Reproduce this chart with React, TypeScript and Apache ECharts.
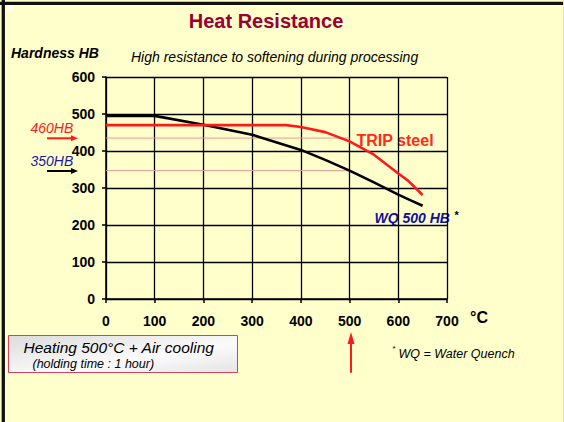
import React, { useEffect, useRef } from "react";
import * as echarts from "echarts";

const xTicks = [0, 100, 200, 300, 400, 500, 600, 700];
const yTicks = [0, 100, 200, 300, 400, 500, 600];
const wqTemp = [0, 100, 200, 300, 400, 450, 500, 550, 600, 630, 650];
const wqHardness = [495, 495, 471, 444, 403, 376, 347, 315, 282, 264, 252];
const tripTemp = [0, 370, 400, 450, 500, 550, 600, 620, 650];
const tripHardness = [470, 470, 465, 451, 426, 390, 339, 320, 281];
const refLevels = [435, 347];
const refEnd = 500;

const FONT = "'Liberation Sans', Arial, sans-serif";

export default function App() {
  const ref = useRef<HTMLDivElement>(null);
  useEffect(() => {
    const chart = echarts.init(ref.current!, null, { renderer: "svg" });
    const zip = (xs: number[], ys: number[]) => xs.map((x, i) => [x, ys[i]]);
    const refSeries = refLevels.map((v) => ({
      type: "line",
      data: [[0, v], [refEnd, v]],
      showSymbol: false,
      silent: true,
      lineStyle: { color: "#e59a9a", width: 1 },
      z: 1,
    }));
    chart.setOption({
      animation: false,
      backgroundColor: "#FFFFCC",
      textStyle: { fontFamily: FONT },
      grid: { left: 106, right: 117, top: 77, bottom: 123 },
      xAxis: {
        type: "value",
        min: 0,
        max: 700,
        interval: 100,
        axisLine: { show: true, onZero: false, lineStyle: { color: "#000", width: 1.5 } },
        axisTick: { show: true, length: 4, lineStyle: { color: "#000", width: 1.5 } },
        splitLine: { show: true, lineStyle: { color: "#000", width: 1.3 } },
        axisLabel: { color: "#000", fontWeight: "bold", fontSize: 14, margin: 15, fontFamily: FONT, formatter: (v: number) => (xTicks.includes(v) ? String(v) : "") },
      },
      yAxis: {
        type: "value",
        min: 0,
        max: 600,
        interval: 100,
        axisLine: { show: true, lineStyle: { color: "#000", width: 1.5 } },
        axisTick: { show: true, length: 4, lineStyle: { color: "#000", width: 1.5 } },
        splitLine: { show: true, lineStyle: { color: "#000", width: 1.3 } },
        axisLabel: { color: "#000", fontWeight: "bold", fontSize: 14, margin: 11, fontFamily: FONT, formatter: (v: number) => (yTicks.includes(v) ? String(v) : "") },
      },
      series: [
        ...refSeries,
        {
          type: "line",
          data: zip(wqTemp, wqHardness),
          showSymbol: false,
          lineStyle: { color: "#000", width: 2.6 },
          z: 3,
        },
        {
          type: "line",
          data: zip(tripTemp, tripHardness),
          showSymbol: false,
          lineStyle: { color: "#ff1a1a", width: 2.6 },
          z: 4,
        },
      ],
      graphic: [
        // frame
        { type: "line", shape: { x1: 0, y1: 3.3, x2: 564, y2: 3.3 }, style: { stroke: "#111", lineWidth: 3.3 } },
        { type: "line", shape: { x1: 3.3, y1: 0, x2: 3.3, y2: 422 }, style: { stroke: "#111", lineWidth: 3.3 } },
        { type: "line", shape: { x1: 563.5, y1: 0, x2: 563.5, y2: 422 }, style: { stroke: "#e8e8b0", lineWidth: 1 } },
        { type: "rect", shape: { x: 7, y: 5, width: 6, height: 5 }, style: { fill: "#ffffff" } },
        // title
        { type: "text", x: 266, y: 20.5, style: { text: "Heat Resistance", fill: "#9a0030", font: `bold 20px ${FONT}`, align: "center", verticalAlign: "middle", textShadowColor: "rgba(0,0,0,0.35)", textShadowOffsetX: 1.5, textShadowOffsetY: 1.5, textShadowBlur: 0 } },
        { type: "text", x: 11, y: 53, style: { text: "Hardness HB", fill: "#000", font: `italic bold 14px ${FONT}`, verticalAlign: "middle" } },
        { type: "text", x: 131, y: 57, style: { text: "High resistance to softening during processing", fill: "#000", font: `italic 14px ${FONT}`, verticalAlign: "middle" } },
        { type: "text", x: 470, y: 317.5, style: { text: "°C", fill: "#000", font: `bold 16px ${FONT}`, verticalAlign: "middle" } },
        // left markers
        { type: "text", x: 30.5, y: 128, style: { text: "460HB", fill: "#ff1a1a", font: `italic 14px ${FONT}`, verticalAlign: "middle" } },
        { type: "line", shape: { x1: 47, y1: 138.3, x2: 72, y2: 138.3 }, style: { stroke: "#ff1a1a", lineWidth: 2 } },
        { type: "polygon", shape: { points: [[71, 135.3], [78, 138.3], [71, 141.3]] }, style: { fill: "#ff1a1a" } },
        { type: "text", x: 30.5, y: 160.5, style: { text: "350HB", fill: "#1a1aa0", font: `italic 14px ${FONT}`, verticalAlign: "middle" } },
        { type: "line", shape: { x1: 47, y1: 171, x2: 72, y2: 171 }, style: { stroke: "#000", lineWidth: 2 } },
        { type: "polygon", shape: { points: [[71, 168], [78, 171], [71, 174]] }, style: { fill: "#000" } },
        // series labels
        { type: "text", x: 356.5, y: 140.5, style: { text: "TRIP steel", fill: "#ff2a1a", font: `bold 16px ${FONT}`, verticalAlign: "middle" } },
        { type: "text", x: 374.5, y: 217.5, style: { text: "WQ 500 HB", fill: "#10109a", font: `italic bold 14px ${FONT}`, verticalAlign: "middle" } },
        { type: "text", x: 454.5, y: 215, style: { text: "*", fill: "#000", font: `bold 11px ${FONT}`, verticalAlign: "middle" } },
        // bottom box
        {
          type: "rect",
          shape: { x: 8.5, y: 335.5, width: 229, height: 37 },
          style: {
            fill: new echarts.graphic.LinearGradient(0, 0, 1, 1, [
              { offset: 0, color: "#dcdcdc" },
              { offset: 0.6, color: "#fbfbfb" },
              { offset: 1, color: "#e4e4e4" },
            ]),
            stroke: "#d04060",
            lineWidth: 1,
          },
        },
        { type: "text", x: 23.5, y: 347.5, style: { text: "Heating 500°C + Air cooling", fill: "#000", font: `italic 15.5px ${FONT}`, verticalAlign: "middle" } },
        { type: "text", x: 32.5, y: 363.5, style: { text: "(holding time : 1 hour)", fill: "#000", font: `italic 12.5px ${FONT}`, verticalAlign: "middle" } },
        // up arrow
        { type: "line", shape: { x1: 351, y1: 372.7, x2: 351, y2: 342 }, style: { stroke: "#ff1a1a", lineWidth: 2 } },
        { type: "polygon", shape: { points: [[347.5, 344], [351, 332], [354.5, 344]] }, style: { fill: "#ff1a1a" } },
        // footnote
        { type: "text", x: 392.5, y: 348.5, style: { text: "*", fill: "#000", font: `8px ${FONT}`, verticalAlign: "middle" } },
        { type: "text", x: 398.5, y: 353.5, style: { text: "WQ = Water Quench", fill: "#000", font: `italic 12.5px ${FONT}`, verticalAlign: "middle" } },
      ],
    });
    return () => chart.dispose();
  }, []);
  return <div ref={ref} style={{ position: "fixed", left: 0, top: 0, width: 564, height: 422 }} />;
}
